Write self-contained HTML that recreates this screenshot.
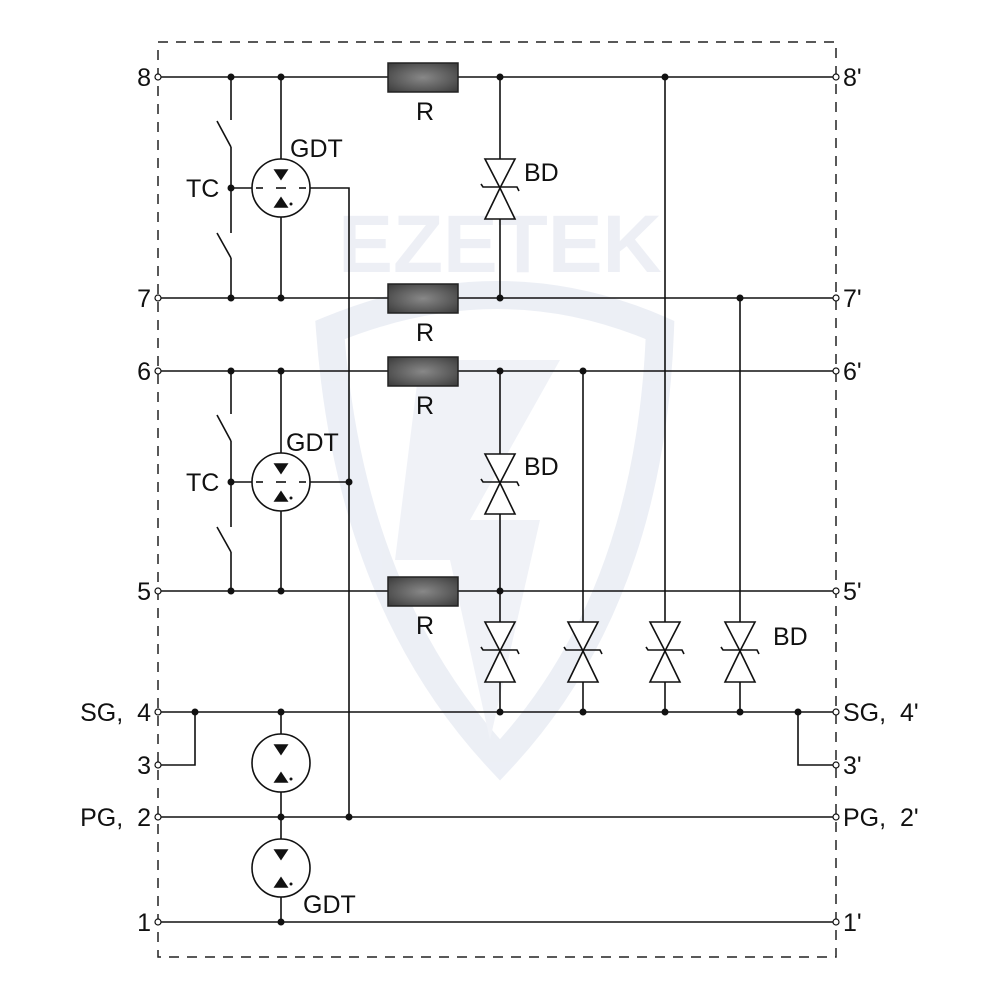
<!DOCTYPE html>
<html><head><meta charset="utf-8"><style>
html,body{margin:0;padding:0;background:#fff}
svg{display:block}
text{font-family:"Liberation Sans",Arial,sans-serif;fill:#111}
</style></head><body>
<svg width="1000" height="1000" viewBox="0 0 1000 1000">
<defs>
<radialGradient id="rg" cx="0.5" cy="0.5" r="0.7">
<stop offset="0" stop-color="#888"/><stop offset="0.6" stop-color="#5a5a5a"/><stop offset="1" stop-color="#3a3a3a"/>
</radialGradient>
<g id="diode" fill="#fff" stroke="#111" stroke-width="1.6">
<polygon points="-15,-29 15,-29 0,0"/>
<polygon points="0,0 -15,31 15,31"/>
<polyline fill="none" points="-19,-4 -17,-1 17,-1 19,3"/>
</g>
<g id="gdt" stroke="#111" stroke-width="1.6" fill="none">
<circle r="29" fill="#fff"/>
<polygon points="-6,-18 6,-18 0,-9" fill="#111"/>
<polygon points="-6,19 6,19 0,10" fill="#111"/>
<circle cx="10" cy="16" r="1.5" fill="#111" stroke="none"/>
</g>
<g id="gdt2" stroke="#111" stroke-width="1.6" fill="none">
<circle r="29" fill="#fff"/>
<polygon points="-6,-18 6,-18 0,-9" fill="#111"/>
<polygon points="-6,19 6,19 0,10" fill="#111"/>
<circle cx="10" cy="16" r="1.5" fill="#111" stroke="none"/>
<line x1="-25" y1="0" x2="-18" y2="0"/><line x1="-5" y1="0" x2="5" y2="0"/><line x1="18" y1="0" x2="25" y2="0"/>
</g>
<rect id="res" x="-35" y="-14" width="70" height="29" fill="url(#rg)" stroke="#222" stroke-width="1.5"/>
</defs>

<!-- watermark -->
<g opacity="0.55">
<path d="M330,330 Q500,260 660,330 Q650,600 500,760 Q350,600 330,330 Z" fill="none" stroke="#dde2ee" stroke-width="28"/>
<path d="M420,360 L560,360 L470,520 L540,520 L490,740 L450,560 L395,560 Z" fill="#e4e8f2"/>
<text x="500" y="272" font-size="82" font-weight="bold" text-anchor="middle" style="fill:#dfe3ee">EZETEK</text>
</g>

<!-- dashed box -->
<rect x="158" y="42" width="678" height="915" fill="none" stroke="#222" stroke-width="1.5" stroke-dasharray="10,8"/>

<g stroke="#111" stroke-width="1.6" fill="none">
<line x1="158" y1="77" x2="836" y2="77"/>
<line x1="158" y1="298" x2="836" y2="298"/>
<line x1="158" y1="371" x2="836" y2="371"/>
<line x1="158" y1="591" x2="836" y2="591"/>
<line x1="158" y1="712" x2="836" y2="712"/>
<line x1="158" y1="817" x2="836" y2="817"/>
<line x1="158" y1="922" x2="836" y2="922"/>
<polyline points="158,765 195,765 195,712"/>
<polyline points="836,765 798,765 798,712"/>

<line x1="231" y1="77" x2="231" y2="120"/>
<line x1="217" y1="121" x2="231" y2="147"/>
<line x1="231" y1="147" x2="231" y2="233"/>
<line x1="217" y1="233" x2="231" y2="258"/>
<line x1="231" y1="258" x2="231" y2="298"/>
<line x1="231" y1="188" x2="252" y2="188"/>
<line x1="281" y1="77" x2="281" y2="298"/>
<polyline points="310,188 349,188 349,817"/>
<line x1="231" y1="371" x2="231" y2="414"/>
<line x1="217" y1="415" x2="231" y2="441"/>
<line x1="231" y1="441" x2="231" y2="527"/>
<line x1="217" y1="527" x2="231" y2="552"/>
<line x1="231" y1="552" x2="231" y2="591"/>
<line x1="231" y1="482" x2="252" y2="482"/>
<line x1="281" y1="371" x2="281" y2="591"/>
<line x1="310" y1="482" x2="349" y2="482"/>
<line x1="281" y1="712" x2="281" y2="922"/>
<line x1="500" y1="77" x2="500" y2="298"/>
<line x1="500" y1="371" x2="500" y2="712"/>
<line x1="583" y1="371" x2="583" y2="712"/>
<line x1="665" y1="77" x2="665" y2="712"/>
<line x1="740" y1="298" x2="740" y2="712"/>
</g>

<use href="#gdt2" x="281" y="188"/>
<use href="#gdt2" x="281" y="482"/>
<use href="#gdt" x="281" y="763"/>
<use href="#gdt" x="281" y="868"/>

<use href="#res" x="423" y="77"/>
<use href="#res" x="423" y="298"/>
<use href="#res" x="423" y="371"/>
<use href="#res" x="423" y="591"/>

<use href="#diode" x="500" y="188"/>
<use href="#diode" x="500" y="483"/>
<use href="#diode" x="500" y="651"/>
<use href="#diode" x="583" y="651"/>
<use href="#diode" x="665" y="651"/>
<use href="#diode" x="740" y="651"/>

<g fill="#111">
<circle cx="231" cy="77" r="3.5"/><circle cx="281" cy="77" r="3.5"/><circle cx="500" cy="77" r="3.5"/><circle cx="665" cy="77" r="3.5"/>
<circle cx="231" cy="188" r="3.5"/>
<circle cx="231" cy="298" r="3.5"/><circle cx="281" cy="298" r="3.5"/><circle cx="500" cy="298" r="3.5"/><circle cx="740" cy="298" r="3.5"/>
<circle cx="231" cy="371" r="3.5"/><circle cx="281" cy="371" r="3.5"/><circle cx="500" cy="371" r="3.5"/><circle cx="583" cy="371" r="3.5"/>
<circle cx="231" cy="482" r="3.5"/><circle cx="349" cy="482" r="3.5"/>
<circle cx="231" cy="591" r="3.5"/><circle cx="281" cy="591" r="3.5"/><circle cx="500" cy="591" r="3.5"/>
<circle cx="195" cy="712" r="3.5"/><circle cx="281" cy="712" r="3.5"/><circle cx="500" cy="712" r="3.5"/><circle cx="583" cy="712" r="3.5"/><circle cx="665" cy="712" r="3.5"/><circle cx="740" cy="712" r="3.5"/><circle cx="798" cy="712" r="3.5"/>
<circle cx="281" cy="817" r="3.5"/><circle cx="349" cy="817" r="3.5"/>
<circle cx="281" cy="922" r="3.5"/>
</g>
<g fill="#fff" stroke="#111" stroke-width="1.2">
<circle cx="158" cy="77" r="3"/><circle cx="158" cy="298" r="3"/><circle cx="158" cy="371" r="3"/><circle cx="158" cy="591" r="3"/><circle cx="158" cy="712" r="3"/><circle cx="158" cy="765" r="3"/><circle cx="158" cy="817" r="3"/><circle cx="158" cy="922" r="3"/>
<circle cx="836" cy="77" r="3"/><circle cx="836" cy="298" r="3"/><circle cx="836" cy="371" r="3"/><circle cx="836" cy="591" r="3"/><circle cx="836" cy="712" r="3"/><circle cx="836" cy="765" r="3"/><circle cx="836" cy="817" r="3"/><circle cx="836" cy="922" r="3"/>
</g>

<g font-size="25">
<text x="151" y="86" text-anchor="end">8</text>
<text x="151" y="307" text-anchor="end">7</text>
<text x="151" y="380" text-anchor="end">6</text>
<text x="151" y="600" text-anchor="end">5</text>
<text x="151" y="721" text-anchor="end">SG,&#160; 4</text>
<text x="151" y="774" text-anchor="end">3</text>
<text x="151" y="826" text-anchor="end">PG,&#160; 2</text>
<text x="151" y="931" text-anchor="end">1</text>
<text x="843" y="86">8'</text>
<text x="843" y="307">7'</text>
<text x="843" y="380">6'</text>
<text x="843" y="600">5'</text>
<text x="843" y="721">SG,&#160; 4'</text>
<text x="843" y="774">3'</text>
<text x="843" y="826">PG,&#160; 2'</text>
<text x="843" y="931">1'</text>
<text x="425" y="120" text-anchor="middle">R</text>
<text x="425" y="341" text-anchor="middle">R</text>
<text x="425" y="414" text-anchor="middle">R</text>
<text x="425" y="634" text-anchor="middle">R</text>
<text x="290" y="157">GDT</text>
<text x="286" y="451">GDT</text>
<text x="303" y="913">GDT</text>
<text x="186" y="197">TC</text>
<text x="186" y="491">TC</text>
<text x="524" y="181">BD</text>
<text x="524" y="475">BD</text>
<text x="773" y="645">BD</text>
</g>
</svg>
</body></html>
